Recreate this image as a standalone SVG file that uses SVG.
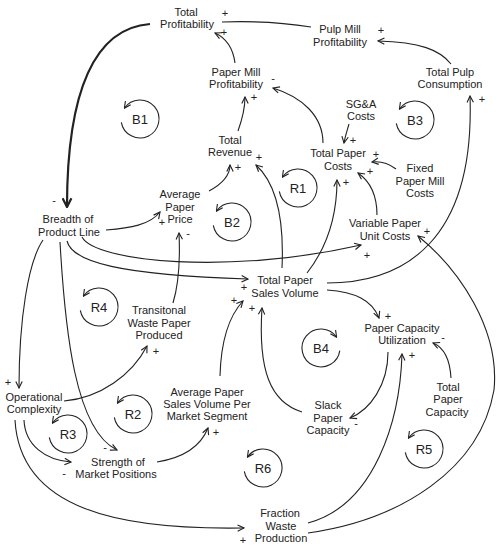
<svg xmlns="http://www.w3.org/2000/svg" width="501" height="547" viewBox="0 0 501 547">
<defs>
<marker id="a" viewBox="0 0 10 10" refX="9" refY="5" markerWidth="8" markerHeight="8" markerUnits="userSpaceOnUse" orient="auto"><path d="M1,1 L9,5 L1,9" fill="none" stroke="#222" stroke-width="1.4"/></marker>
<marker id="ab" viewBox="0 0 10 10" refX="9" refY="5" markerWidth="11" markerHeight="11" markerUnits="userSpaceOnUse" orient="auto"><path d="M1,1 L9,5 L1,9" fill="none" stroke="#222" stroke-width="2"/></marker>
<style>
text{font-family:"Liberation Sans",Arial,sans-serif;font-size:11px;fill:#222;text-anchor:middle}
.lp{font-size:13px}
.p{font-size:11px}
.c{fill:none;stroke:#222;stroke-width:1.1}
.l{fill:none;stroke:#222;stroke-width:1.1;marker-end:url(#a)}
</style>
</defs>
<rect width="501" height="547" fill="#fff"/>
<g id="connectors">
<path d="M150,24 C95,28 67,90 67,207" fill="none" stroke="#222" stroke-width="2.2" marker-end="url(#ab)"/>
<path class="c" d="M311,27 C280,22 250,21 222,22"/>
<path class="l" d="M235,63 C233,48 226,38 215,33"/>
<path class="l" d="M238,131 C243,117 245,108 245,97"/>
<path class="l" d="M323,143 C323,116 302,97 273,88"/>
<path class="l" d="M451,64 C440,50 420,42 378,41"/>
<path class="l" d="M349,124 C347,131 345,137 344,143"/>
<path class="l" d="M396,169 C388,163 380,161 372,162"/>
<path class="l" d="M377,215 C377,196 371,182 358,173"/>
<path class="l" d="M307,273 C325,250 337,220 337,180"/>
<path class="l" d="M282,268 C284,225 278,185 256,165"/>
<path class="l" d="M209,191 C222,184 230,175 230,165"/>
<path class="l" d="M106,230 C130,228 150,225 160,212"/>
<path class="l" d="M173,303 C180,280 180,255 179,233"/>
<path class="l" d="M67,241 C72,262 120,275 248,279"/>
<path class="l" d="M82,237 C95,262 230,275 361,245"/>
<path class="l" d="M327,283 C405,283 475,240 470,96"/>
<path class="l" d="M327,290 C355,292 372,300 379,318"/>
<path class="l" d="M451,378 C450,360 445,348 433,343"/>
<path class="l" d="M388,352 C388,385 370,410 350,418"/>
<path class="l" d="M302,412 C270,402 258,370 262,308"/>
<path class="l" d="M220,376 C221,340 230,315 243,301"/>
<path class="l" d="M64,401 C100,398 132,375 147,346"/>
<path class="l" d="M43,240 C28,262 19,320 19,388"/>
<path class="l" d="M60,242 C65,330 75,430 117,450"/>
<path class="l" d="M24,420 C25,445 45,460 71,462"/>
<path class="l" d="M15,420 C20,510 120,530 244,528"/>
<path class="l" d="M157,462 C182,458 200,448 208,428"/>
<path class="l" d="M308,523 C375,505 400,420 402,354"/>
<path class="l" d="M308,533 C400,520 480,470 494,390 C500,330 460,270 418,236"/>
</g>
<g id="polarities">
<text class="p" x="225" y="17">+</text>
<text class="p" x="224" y="36">+</text>
<text class="p" x="273" y="82">-</text>
<text class="p" x="254" y="101">+</text>
<text class="p" x="381" y="34">+</text>
<text class="p" x="482" y="103">+</text>
<text class="p" x="353" y="144">+</text>
<text class="p" x="376" y="158">+</text>
<text class="p" x="370" y="175">+</text>
<text class="p" x="346" y="186">+</text>
<text class="p" x="259" y="161">+</text>
<text class="p" x="238" y="171">+</text>
<text class="p" x="162" y="226">+</text>
<text class="p" x="188" y="237">-</text>
<text class="p" x="54" y="204">-</text>
<text class="p" x="244" y="291">+</text>
<text class="p" x="367" y="259">+</text>
<text class="p" x="427" y="235">+</text>
<text class="p" x="234" y="304">+</text>
<text class="p" x="252" y="312">+</text>
<text class="p" x="388" y="320">+</text>
<text class="p" x="443" y="341">-</text>
<text class="p" x="412" y="359">+</text>
<text class="p" x="356" y="427">-</text>
<text class="p" x="156" y="355">+</text>
<text class="p" x="8" y="386">+</text>
<text class="p" x="216" y="436">+</text>
<text class="p" x="105" y="451">-</text>
<text class="p" x="64" y="477">-</text>
<text class="p" x="243" y="544">+</text>
</g>
<g id="loops">
<path class="l" d="M121.3,122.3 A19,19 0 1 0 124.4,108.1"/><text class="lp" x="140" y="124">B1</text>
<path class="l" d="M213.3,225.3 A19,19 0 1 0 216.4,211.1"/><text class="lp" x="232" y="227">B2</text>
<path class="l" d="M396.3,123.3 A19,19 0 1 0 399.4,109.1"/><text class="lp" x="415" y="125">B3</text>
<path class="l" d="M279.3,191.3 A19,19 0 1 0 282.4,177.1"/><text class="lp" x="298" y="193">R1</text>
<path class="l" d="M80.3,310.3 A19,19 0 1 0 83.4,296.1"/><text class="lp" x="99" y="312">R4</text>
<path class="l" d="M339.8,350.6 A19,19 0 1 1 336.6,337.1"/><text class="lp" x="321" y="353">B4</text>
<path class="l" d="M114.3,417.3 A19,19 0 1 0 117.4,403.1"/><text class="lp" x="133" y="419">R2</text>
<path class="l" d="M49.3,437.3 A19,19 0 1 0 52.4,423.1"/><text class="lp" x="68" y="439">R3</text>
<path class="l" d="M405.3,452.3 A19,19 0 1 0 408.4,438.1"/><text class="lp" x="424" y="454">R5</text>
<path class="l" d="M244.3,471.3 A19,19 0 1 0 247.4,457.1"/><text class="lp" x="263" y="473">R6</text>
</g>
<g id="total-profitability"><text x="186" y="16">Total</text><text x="187" y="28">Profitability</text></g>
<g id="pulp-mill-profitability"><text x="340" y="33">Pulp Mill</text><text x="340" y="46">Profitability</text></g>
<g id="paper-mill-profitability"><text x="236" y="76">Paper Mill</text><text x="236" y="88">Profitability</text></g>
<g id="total-pulp-consumption"><text x="450" y="76">Total Pulp</text><text x="450" y="88">Consumption</text></g>
<g id="sga-costs"><text x="361" y="108">SG&amp;A</text><text x="361" y="120">Costs</text></g>
<g id="total-paper-costs"><text x="338" y="157">Total Paper</text><text x="338" y="170">Costs</text></g>
<g id="fixed-paper-mill-costs"><text x="420" y="172">Fixed</text><text x="420" y="185">Paper Mill</text><text x="420" y="197">Costs</text></g>
<g id="variable-paper-unit-costs"><text x="385" y="227">Variable Paper</text><text x="385" y="240">Unit Costs</text></g>
<g id="total-revenue"><text x="230" y="144">Total</text><text x="230" y="156">Revenue</text></g>
<g id="average-paper-price"><text x="180" y="198">Average</text><text x="180" y="211">Paper</text><text x="180" y="223">Price</text></g>
<g id="breadth-of-product-line"><text x="68" y="223">Breadth of</text><text x="69" y="236">Product Line</text></g>
<g id="total-paper-sales-volume"><text x="285" y="284">Total Paper</text><text x="285" y="297">Sales Volume</text></g>
<g id="transitonal-waste-paper-produced"><text x="159" y="314">Transitonal</text><text x="159" y="327">Waste Paper</text><text x="159" y="339">Produced</text></g>
<g id="paper-capacity-utilization"><text x="402" y="332">Paper Capacity</text><text x="402" y="344">Utilization</text></g>
<g id="operational-complexity"><text x="34" y="401">Operational</text><text x="34" y="413">Complexity</text></g>
<g id="average-paper-sales-volume-per-market-segment"><text x="207" y="396">Average Paper</text><text x="207" y="408">Sales Volume Per</text><text x="207" y="420">Market Segment</text></g>
<g id="strength-of-market-positions"><text x="118" y="466">Strength of</text><text x="116" y="478">Market Positions</text></g>
<g id="slack-paper-capacity"><text x="328" y="409">Slack</text><text x="328" y="422">Paper</text><text x="328" y="434">Capacity</text></g>
<g id="total-paper-capacity"><text x="448" y="391">Total</text><text x="448" y="403">Paper</text><text x="447" y="416">Capacity</text></g>
<g id="fraction-waste-production"><text x="280" y="517">Fraction</text><text x="281" y="530">Waste</text><text x="281" y="542">Production</text></g>
</svg>
